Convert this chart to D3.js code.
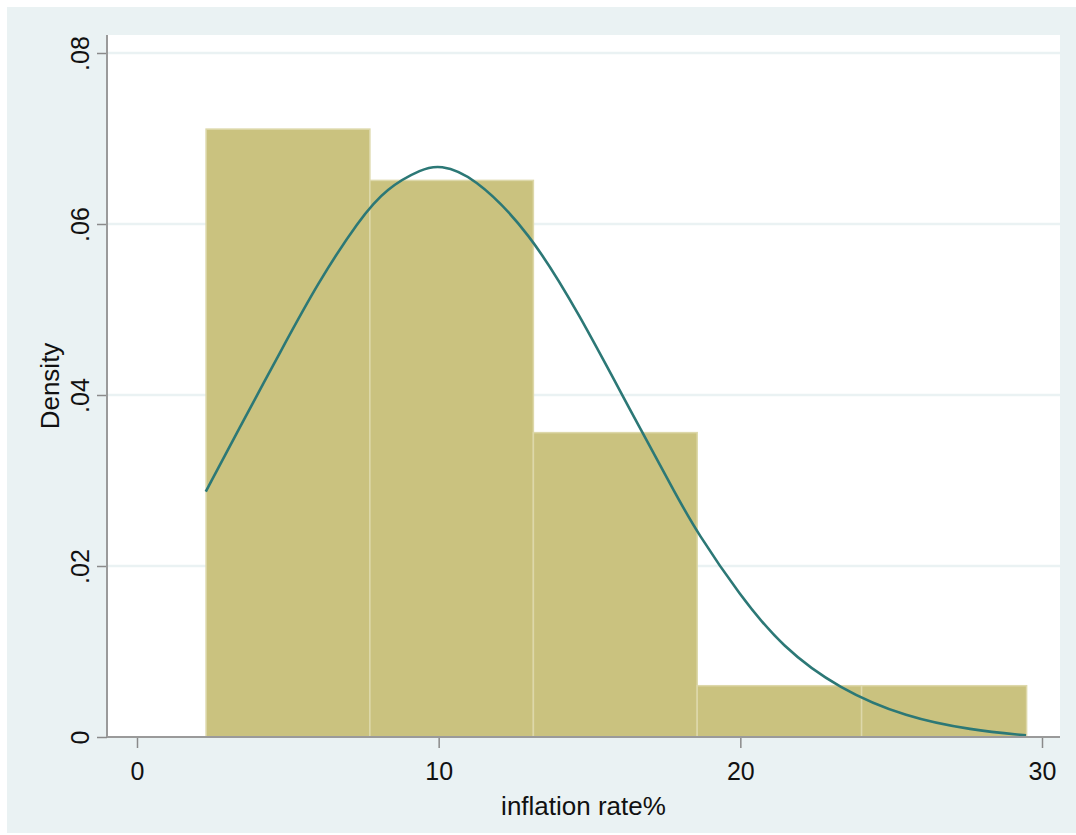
<!DOCTYPE html>
<html>
<head>
<meta charset="utf-8">
<script src="https://cdn.jsdelivr.net/npm/d3@7"></script>
<style>
  body { margin: 0; background: #ffffff; }
  svg { display: block; }
  text { font-family: "Liberation Sans", Arial, Helvetica, sans-serif; fill: #111; }
</style>
</head>
<body>
<script>
// histogram bins (inflation rate %)
var binEdges = [2.29, 7.72, 13.14, 18.57, 24.02, 29.49];
var binDensity = [0.0711, 0.0651, 0.0356, 0.0060, 0.0060];

// normal density overlay
var curveX = [2.28, 3.30, 4.79, 5.99, 7.38, 8.27, 9.47, 10.03, 11.13, 13.01, 14.67, 16.32, 17.98, 18.54, 19.97, 21.39, 23.28, 25.50, 27.68, 29.47];
var curveY = [0.0287, 0.0355, 0.0453, 0.0531, 0.0606, 0.0642, 0.0665, 0.0669, 0.0657, 0.0591, 0.0494, 0.0384, 0.0276, 0.0241, 0.0166, 0.0105, 0.0056, 0.0023, 0.0008, 0.0002];

var xTicks = [0, 10, 20, 30];
var yTicks = [0, 0.02, 0.04, 0.06, 0.08];
var yTickLabels = ["0", ".02", ".04", ".06", ".08"];

var width = 1076, height = 835;

var svg = d3.select('body')
  .append('svg')
  .attr('width', width)
  .attr('height', height);

// outer graph region
svg.append('rect')
  .attr('x', 7).attr('y', 7)
  .attr('width', width - 7).attr('height', 826)
  .attr('fill', '#eaf2f3');

// plot region
svg.append('rect')
  .attr('x', 107).attr('y', 35)
  .attr('width', 953).attr('height', 702)
  .attr('fill', '#ffffff');

var x = d3.scaleLinear().domain([0, 30]).range([137, 1042]);
var y = d3.scaleLinear().domain([0, 0.08]).range([737, 53]);

// gridlines
svg.append('g')
  .selectAll('line')
  .data(yTicks.slice(1))
  .enter()
  .append('line')
  .attr('x1', 108).attr('x2', 1060)
  .attr('y1', function(d) { return y(d); })
  .attr('y2', function(d) { return y(d); })
  .attr('stroke', '#eaf2f3')
  .attr('stroke-width', 2.5);

// bars
var bins = binDensity.map(function(d, i) {
  return { x0: binEdges[i], x1: binEdges[i + 1], d: d };
});

svg.append('g')
  .selectAll('rect')
  .data(bins)
  .enter()
  .append('rect')
  .attr('x', function(b) { return x(b.x0); })
  .attr('y', function(b) { return y(b.d); })
  .attr('width', function(b) { return x(b.x1) - x(b.x0); })
  .attr('height', function(b) { return y(0) - y(b.d); })
  .attr('fill', '#cac27f')
  .attr('stroke', '#ddd8aa')
  .attr('stroke-width', 1.5);

// normal curve
var pts = curveX.map(function(v, i) { return [v, curveY[i]]; });
var line = d3.line()
  .x(function(p) { return x(p[0]); })
  .y(function(p) { return y(p[1]); })
  .curve(d3.curveBasis);

svg.append('path')
  .datum(pts)
  .attr('d', line)
  .attr('fill', 'none')
  .attr('stroke', '#2c7876')
  .attr('stroke-width', 2.6);

// axes
var xAxis = d3.axisBottom(x).tickValues(xTicks).tickSize(11).tickPadding(14).tickFormat(d3.format('d'));
var gx = svg.append('g')
  .attr('transform', 'translate(0,737)')
  .call(xAxis);
gx.select('.domain').remove();
gx.append('line')
  .attr('x1', 107).attr('x2', 1060)
  .attr('y1', 0).attr('y2', 0)
  .attr('stroke', '#9a9a9a').attr('stroke-width', 2);
gx.selectAll('.tick line').attr('stroke', '#8a8a8a').attr('stroke-width', 1.5);
gx.selectAll('.tick text')
  .attr('font-size', 25)
  .attr('fill', '#111')
  .style('font-family', '"Liberation Sans", Arial, sans-serif');

var yAxis = d3.axisLeft(y).tickValues(yTicks).tickSize(10).tickFormat(function(d, i) { return yTickLabels[i]; });
var gy = svg.append('g')
  .attr('transform', 'translate(107,0)')
  .call(yAxis);
gy.select('.domain').remove();
gy.append('line')
  .attr('x1', 0).attr('x2', 0)
  .attr('y1', 35).attr('y2', 737)
  .attr('stroke', '#9a9a9a').attr('stroke-width', 2);
gy.selectAll('.tick line').attr('stroke', '#8a8a8a').attr('stroke-width', 1.5);
gy.selectAll('.tick text')
  .attr('font-size', 25)
  .attr('fill', '#111')
  .attr('x', null).attr('dy', null)
  .attr('text-anchor', 'middle')
  .attr('transform', 'translate(-18,0) rotate(-90)')
  .style('font-family', '"Liberation Sans", Arial, sans-serif');

// axis titles
svg.append('text')
  .attr('x', 583.5).attr('y', 815)
  .attr('text-anchor', 'middle')
  .attr('font-size', 26)
  .text('inflation rate%');

svg.append('text')
  .attr('transform', 'translate(59,386) rotate(-90)')
  .attr('text-anchor', 'middle')
  .attr('font-size', 26)
  .text('Density');
</script>
</body>
</html>
